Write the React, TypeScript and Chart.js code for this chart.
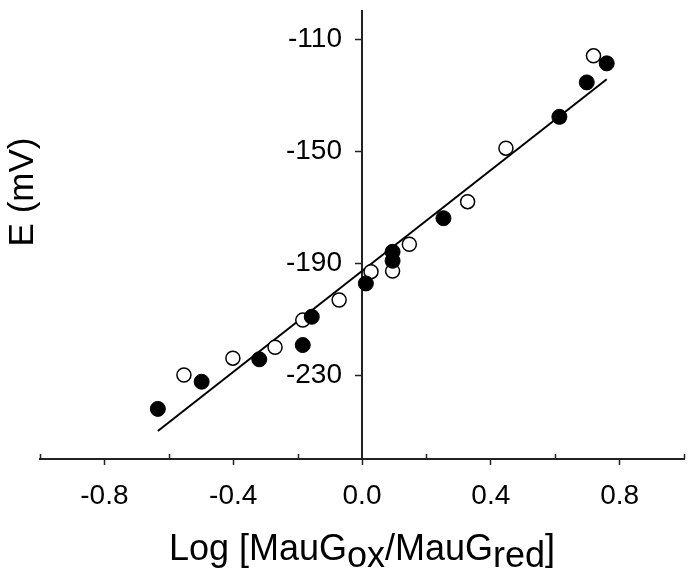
import React, { useEffect, useRef } from "react";
import { Chart, registerables } from "chart.js";

Chart.register(...registerables);

// ---- data ----
const filledX = [-0.634, -0.498, -0.319, -0.184, -0.156, 0.012, 0.095, 0.095, 0.253, 0.613, 0.698, 0.76];
const filledY = [-242.1, -232.4, -224.4, -219.3, -209.2, -197.3, -189.2, -186.0, -174.0, -137.8, -125.5, -118.7];
const openX = [-0.553, -0.401, -0.27, -0.184, -0.071, 0.028, 0.095, 0.147, 0.328, 0.447, 0.719];
const openY = [-230.0, -224.0, -220.1, -210.4, -203.2, -193.1, -192.9, -183.3, -168.1, -149.0, -116.0];
const fitX = [-0.634, 0.76];
const fitY = [-250.0, -124.4];

const xTicks = [-1, -0.8, -0.6, -0.4, -0.2, 0, 0.2, 0.4, 0.6, 0.8, 1];
const xLabelled = [-0.8, -0.4, 0, 0.4, 0.8];
const yTicks = [-230, -190, -150, -110];

const yTitle = "E (mV)";
const xTitleParts = [
  { text: "Log [MauG", sub: false },
  { text: "ox", sub: true },
  { text: "/MauG", sub: false },
  { text: "red", sub: true },
  { text: "]", sub: false },
];

const FONT = '"Liberation Sans", Arial, sans-serif';
const AXIS = "#222";

const isMajor = (v: number) => xLabelled.some((m) => Math.abs(m - v) < 1e-6);

const extrasPlugin = {
  id: "extras",
  afterDraw(chart: any) {
    const ctx = chart.ctx;
    const xs = chart.scales.x;
    ctx.save();
    // minor inward ticks on x axis
    ctx.strokeStyle = AXIS;
    ctx.lineWidth = 1.5;
    xTicks.forEach((v) => {
      if (isMajor(v)) return;
      const px = Math.round(xs.getPixelForValue(v)) + 0.5;
      ctx.beginPath();
      ctx.moveTo(px, xs.top);
      ctx.lineTo(px, xs.top - 5);
      ctx.stroke();
    });
    // x title with subscripts
    ctx.fillStyle = "#000";
    ctx.font = `36px ${FONT}`;
    ctx.textBaseline = "alphabetic";
    ctx.textAlign = "left";
    const total = xTitleParts.reduce((s, p) => s + ctx.measureText(p.text).width, 0);
    let x = (xs.left + xs.right) / 2 - total / 2;
    const base = 560;
    xTitleParts.forEach((p) => {
      ctx.fillText(p.text, x, p.sub ? base + 7 : base);
      x += ctx.measureText(p.text).width;
    });
    // y title
    ctx.font = `35px ${FONT}`;
    ctx.translate(33, 192);
    ctx.rotate(-Math.PI / 2);
    ctx.textAlign = "center";
    ctx.fillText(yTitle, 0, 0);
    ctx.restore();
  },
};

export default function App() {
  const ref = useRef<HTMLCanvasElement | null>(null);
  useEffect(() => {
    if (!ref.current) return;
    const chart = new Chart(ref.current, {
      type: "scatter",
      data: {
        datasets: [
          {
            label: "filled",
            data: filledX.map((x, i) => ({ x, y: filledY[i] })),
            pointRadius: 7.5,
            pointBackgroundColor: "#000",
            pointBorderColor: "#000",
            pointBorderWidth: 1,
            showLine: false,
          },
          {
            label: "open",
            data: openX.map((x, i) => ({ x, y: openY[i] })),
            pointRadius: 7,
            pointBackgroundColor: "#fff",
            pointBorderColor: "#000",
            pointBorderWidth: 1.5,
            showLine: false,
          },
          {
            label: "fit",
            data: fitX.map((x, i) => ({ x, y: fitY[i] })),
            showLine: true,
            borderColor: "#000",
            borderWidth: 2,
            pointRadius: 0,
          } as any,
        ],
      },
      plugins: [extrasPlugin],
      options: {
        animation: false,
        responsive: false,
        layout: { padding: { left: 40, right: 10, top: 11, bottom: 58 } },
        plugins: { legend: { display: false }, tooltip: { enabled: false } },
        scales: {
          x: {
            type: "linear",
            position: "bottom",
            min: -1,
            max: 1,
            afterBuildTicks: (s: any) => {
              s.ticks = xTicks.map((v) => ({ value: v }));
            },
            afterFit: (s: any) => {
              s.paddingLeft = 0;
              s.paddingRight = 0;
              s.height = 60;
            },
            ticks: {
              autoSkip: false,
              maxRotation: 0,
              padding: 14,
              color: "#000",
              font: { size: 28, family: FONT },
              callback: (v: any) => (isMajor(Number(v)) ? Number(v).toFixed(1) : ""),
            },
            grid: {
              drawOnChartArea: false,
              drawTicks: true,
              tickLength: 6,
              tickWidth: 1.5,
              tickColor: (c: any) => (c.tick && isMajor(c.tick.value) ? AXIS : "rgba(0,0,0,0)"),
            },
            border: { display: true, color: AXIS, width: 2 },
          },
          y: {
            type: "linear",
            position: "center",
            min: -260,
            max: -100,
            afterBuildTicks: (s: any) => {
              s.ticks = yTicks.map((v) => ({ value: v }));
            },
            afterFit: (s: any) => {
              s.paddingTop = 0;
              s.paddingBottom = 0;
            },
            ticks: {
              padding: 14,
              color: "#000",
              font: { size: 28, family: FONT },
              callback: (v: any) => String(v),
            },
            grid: {
              drawOnChartArea: false,
              drawTicks: true,
              tickLength: 6,
              tickWidth: 1.5,
              tickColor: AXIS,
            },
            border: { display: true, color: AXIS, width: 2 },
          },
        },
      },
    });
    return () => chart.destroy();
  }, []);
  return (
    <div style={{ position: "absolute", left: 0, top: 0, width: 694, height: 577, background: "#fff" }}>
      <canvas ref={ref} width={694} height={577} style={{ display: "block" }} />
    </div>
  );
}
